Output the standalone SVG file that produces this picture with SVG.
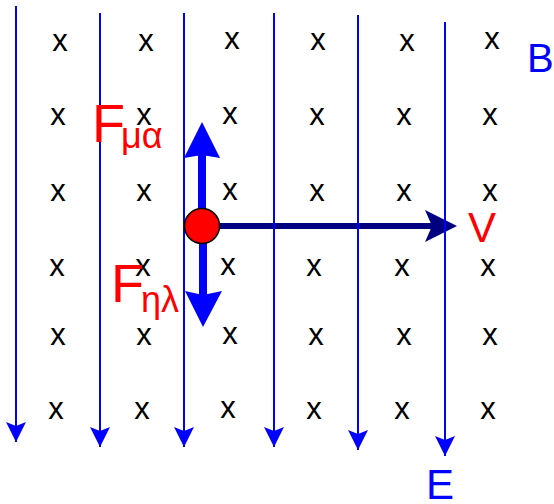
<svg xmlns="http://www.w3.org/2000/svg" width="554" height="504" viewBox="0 0 554 504">
<style>
.fl{stroke:#0000FF;stroke-width:2;fill:none}
.xm{font-family:"Liberation Sans",Arial,sans-serif;font-size:31px;fill:#000;text-anchor:middle}
.lbl{font-family:"Liberation Sans",Arial,sans-serif;fill:#FF0000}
.blu{font-family:"Liberation Sans",Arial,sans-serif;fill:#0000FF}
</style>
<defs>
<marker id="ah" markerUnits="userSpaceOnUse" markerWidth="22" markerHeight="22" refX="20" refY="10" orient="auto">
<path d="M0,0 L20,10 L0,20 L4,10 z" fill="#0000FF"/>
</marker>
</defs>
<rect width="554" height="504" fill="#fff"/>
<g id="B-field">
<text class="xm" x="60" y="51">x</text><text class="xm" x="146" y="51">x</text><text class="xm" x="232" y="49">x</text><text class="xm" x="318" y="50">x</text><text class="xm" x="407" y="51">x</text><text class="xm" x="492" y="49">x</text>
<text class="xm" x="58" y="125">x</text><text class="xm" x="144" y="125">x</text><text class="xm" x="230" y="124">x</text><text class="xm" x="317" y="125">x</text><text class="xm" x="404" y="125">x</text><text class="xm" x="490" y="125">x</text>
<text class="xm" x="58" y="201">x</text><text class="xm" x="144" y="201">x</text><text class="xm" x="230" y="200">x</text><text class="xm" x="317" y="201">x</text><text class="xm" x="404" y="201">x</text><text class="xm" x="490" y="201">x</text>
<text class="xm" x="57" y="276">x</text><text class="xm" x="143" y="276">x</text><text class="xm" x="228" y="275">x</text><text class="xm" x="314" y="276">x</text><text class="xm" x="402" y="276">x</text><text class="xm" x="488" y="276">x</text>
<text class="xm" x="58" y="345">x</text><text class="xm" x="144" y="345">x</text><text class="xm" x="230" y="344">x</text><text class="xm" x="316" y="345">x</text><text class="xm" x="404" y="345">x</text><text class="xm" x="490" y="345">x</text>
<text class="xm" x="56" y="419">x</text><text class="xm" x="142" y="419">x</text><text class="xm" x="228" y="418">x</text><text class="xm" x="314" y="419">x</text><text class="xm" x="402" y="419">x</text><text class="xm" x="488" y="419">x</text>
</g>
<g id="velocity">
<line x1="202" y1="226" x2="432" y2="226" stroke="#000080" stroke-width="6"/>
<path d="M457,226 L425,210 L432,226 L425,242 z" fill="#000080"/>
</g>
<g id="connectors">
<line class="fl" x1="16" y1="6" x2="16" y2="442" marker-end="url(#ah)"/>
<line class="fl" x1="100" y1="13" x2="100" y2="447" marker-end="url(#ah)"/>
<line class="fl" x1="184" y1="13" x2="184" y2="447" marker-end="url(#ah)"/>
<line class="fl" x1="274" y1="13" x2="274" y2="447" marker-end="url(#ah)"/>
<line class="fl" x1="358" y1="15" x2="358" y2="450" marker-end="url(#ah)"/>
<line class="fl" x1="445" y1="22" x2="445" y2="456" marker-end="url(#ah)"/>
</g>
<g id="force-magnetic">
<rect x="198" y="152" width="8" height="74" fill="#0000FF"/>
<path d="M202,122 L220,158 L202,155 L184,158 z" fill="#0000FF"/>
</g>
<g id="force-electric">
<rect x="199" y="226" width="8" height="70" fill="#0000FF"/>
<path d="M203,327 L222,291 L203,295 L185,291 z" fill="#0000FF"/>
</g>
<g id="particle">
<circle cx="202" cy="226" r="17.5" fill="#FF0000" stroke="#000" stroke-width="1.5"/>
</g>
<g id="labels">
<text class="lbl" x="92" y="142" font-size="54">F</text>
<text class="lbl" x="121" y="148" font-size="36">μα</text>
<text class="lbl" x="111" y="302" font-size="54">F</text>
<text class="lbl" x="141" y="312" font-size="36">ηλ</text>
<text class="lbl" x="468" y="242" font-size="42">V</text>
<text class="blu" x="527" y="72" font-size="40">B</text>
<text class="blu" x="426" y="499" font-size="42">E</text>
</g>
</svg>
